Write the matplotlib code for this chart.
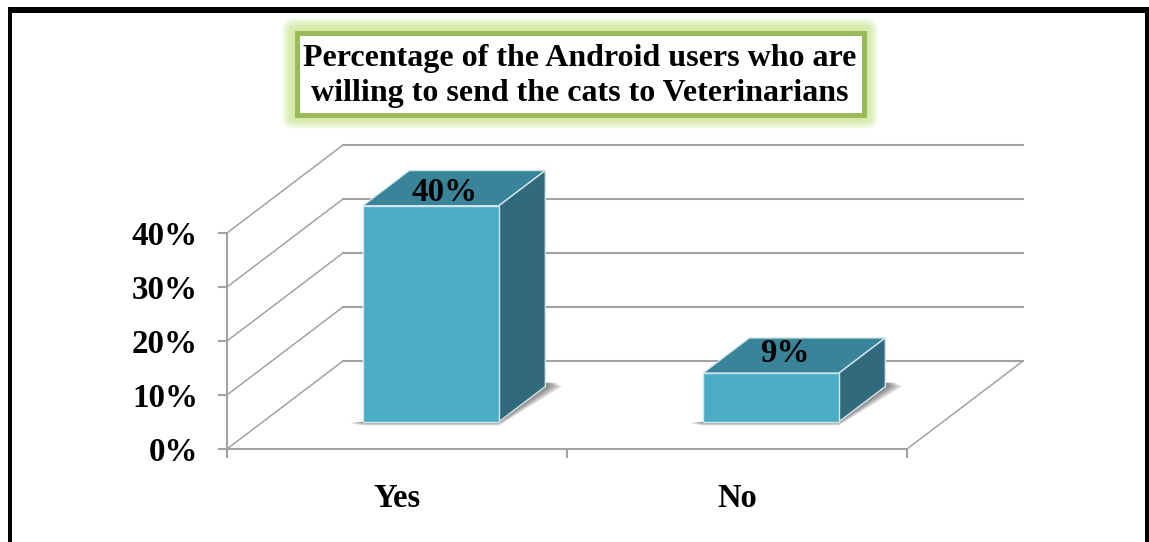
import matplotlib
matplotlib.use("Agg")
import matplotlib.pyplot as plt
from matplotlib.patches import FancyBboxPatch, Polygon, Rectangle

categories = ["Yes", "No"]
values = [40, 9]
y_ticks = [0, 10, 20, 30, 40]
title_lines = "Percentage of the Android users who are\nwilling to send the cats to Veterinarians"

W, H = 1149, 542
GRID = "#a3a3a3"
FRONT = "#4bacc6"
TOP = "#3a8499"
SIDE = "#316a7d"
EDGE = "#d3e6ec"

# size of the floor's depth, in data units
DEPTH_X = 116 / 340
DEPTH_Y = 88 / 5.4
BAR_W = 0.4
BAR_SHIFT = -0.006
D0, D1 = 0.31, 0.71

plt.rcParams["font.family"] = ["Liberation Serif", "DejaVu Serif"]
plt.rcParams["font.weight"] = "bold"

fig = plt.figure(figsize=(W / 100, H / 100), dpi=100, facecolor="white")
ax = fig.add_axes([227 / W, (H - 449) / H, 680 / W, 216 / H])
ax.set_xlim(0, 2)
ax.set_ylim(0, 40)
ax.patch.set_alpha(0)


def pr(x, y, d):
    # oblique projection: depth moves a point up and to the right
    return (x + d * DEPTH_X, y + d * DEPTH_Y)


def poly(pts, **kw):
    kw.setdefault("clip_on", False)
    p = Polygon(pts, closed=True, **kw)
    ax.add_patch(p)
    return p


# walls and floor lines
for v in y_ticks:
    xs, ys = zip(pr(0, v, 0), pr(0, v, 1))
    ax.plot(xs, ys, color=GRID, lw=1.1, clip_on=False, zorder=1)
    xs, ys = zip(pr(0, v, 1), pr(2, v, 1))
    ax.plot(xs, ys, color=GRID, lw=1.5, clip_on=False, zorder=1)
xs, ys = zip(pr(2, 0, 0), pr(2, 0, 1))
ax.plot(xs, ys, color=GRID, lw=1.1, clip_on=False, zorder=1)

# bars
label_dy = [9.5, 14]
for i, val in enumerate(values):
    x0 = i + 0.5 + BAR_SHIFT - BAR_W / 2
    x1 = x0 + BAR_W
    # soft shadow on the floor, built from stacked translucent layers
    for grow in [1.0, 0.85, 0.7, 0.55, 0.4, 0.25]:
        gl = 0.04 * grow
        gr = 0.05 * grow
        gy = 0.7 * grow
        poly([pr(x0 - gl, -gy * 0.4, D0), pr(x0, -gy, D0), pr(x1, -gy, D0),
              pr(x1 + gr, 0, D1), pr(x1 + gr * 0.6, 0.7, D1), pr(x1, 0.7, D1),
              pr(x1, 0, D0), pr(x0, 0, D0)],
             fc="black", ec="none", alpha=0.09, zorder=2)
    poly([pr(x0, val, D0), pr(x1, val, D0), pr(x1, val, D1), pr(x0, val, D1)],
         fc=TOP, ec=EDGE, lw=1, zorder=3)
    poly([pr(x1, 0, D0), pr(x1, 0, D1), pr(x1, val, D1), pr(x1, val, D0)],
         fc=SIDE, ec=EDGE, lw=1, zorder=3)
    poly([pr(x0, 0, D0), pr(x1, 0, D0), pr(x1, val, D0), pr(x0, val, D0)],
         fc=FRONT, ec=EDGE, lw=1, zorder=4)
    lx, ly = pr(i + 0.5 + BAR_SHIFT, val, D0)
    ax.annotate(f"{val}%", (lx, ly), xytext=(10, label_dy[i]), textcoords="offset points",
                ha="center", va="center", fontsize=23.8, fontweight="bold",
                color="black", zorder=5, annotation_clip=False)

# axes
for s in ["top", "right"]:
    ax.spines[s].set_visible(False)
for s in ["left", "bottom"]:
    ax.spines[s].set_color(GRID)
    ax.spines[s].set_linewidth(1.5)
ax.set_yticks(y_ticks)
ax.set_yticklabels([f"{v}%" for v in y_ticks], fontsize=23.8, fontweight="bold")
ax.set_xticks([0, 1, 2])
ax.set_xticklabels([])
ax.set_xticks([0.5, 1.5], minor=True)
ax.set_xticklabels(categories, minor=True, fontsize=23.5, fontweight="bold")
ax.tick_params(axis="y", length=6.5, width=1.5, color=GRID, pad=14.3)
ax.tick_params(axis="x", which="major", length=6.5, width=1.5, color=GRID)
ax.tick_params(axis="x", which="minor", length=0, pad=24.5)


# outer frame, open along the bottom edge
def fig_rect(x0, y0, x1, y1, **kw):
    fig.add_artist(Rectangle((x0 / W, 1 - y1 / H), (x1 - x0) / W, (y1 - y0) / H,
                             transform=fig.transFigure, **kw))


def round_box(x0, y0, x1, y1, r, **kw):
    # drawn in pixel coordinates so the corners stay circular
    box = FancyBboxPatch((x0, H - y1), x1 - x0, y1 - y0,
                         boxstyle=f"round,pad=0,rounding_size={r}",
                         transform=pixel_trans, **kw)
    fig.add_artist(box)


pixel_trans = matplotlib.transforms.Affine2D()

fig_rect(8, 7, 12, H, fc="black", ec="none")
fig_rect(1145, 7, W, H, fc="black", ec="none")
fig_rect(8, 7, W, 13, fc="black", ec="none")

# title box with a green glow
for g in range(12, 0, -1):
    round_box(294 - g, 30 - g, 866 + g, 117 + g, g + 1, fc="#cfe89a", ec="none", alpha=0.13)
fig_rect(296.5, 32.5, 863.5, 114.5, fc="white", ec="#9bbb59", lw=3.6)
fig.text(580 / W, 1 - 76 / H, title_lines, ha="center", va="center", fontsize=23,
         fontweight="bold", color="black", linespacing=1.26)

fig.savefig("out.png", dpi=100)
